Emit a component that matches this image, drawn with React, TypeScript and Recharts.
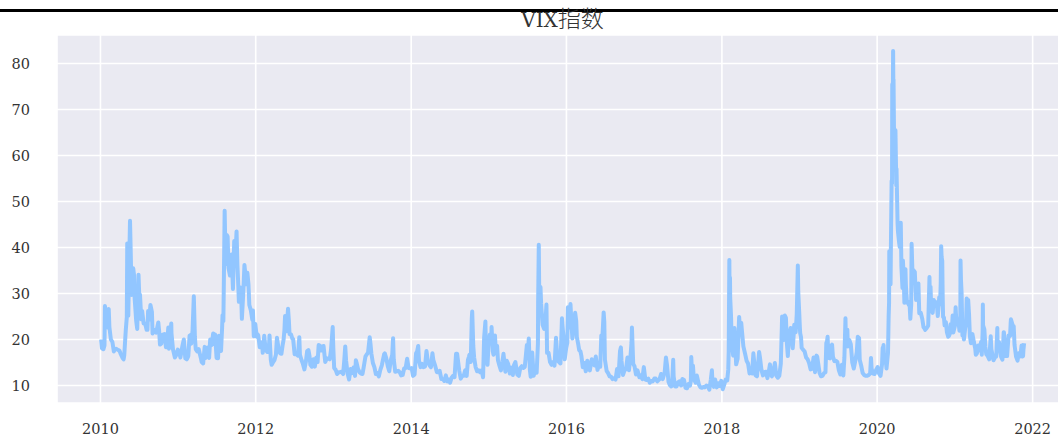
import React from "react";
import { CartesianGrid, Line, LineChart, XAxis, YAxis } from "recharts";

// VIX daily close, sampled (month-day, value) per year; rows are sorted by date below
const y2010: [string, number][] = [
  ["01-04", 20.0], ["01-08", 18.1], ["01-15", 17.9], ["01-22", 27.3], ["01-29", 24.6],
  ["02-05", 26.1], ["02-12", 22.7], ["02-19", 20.0], ["02-26", 19.5], ["03-05", 17.4],
  ["03-15", 18.0], ["03-26", 17.7], ["04-05", 17.0], ["04-15", 16.0], ["04-23", 16.6],
  ["04-30", 22.0], ["05-07", 40.9], ["05-14", 31.2], ["05-20", 45.8], ["05-27", 29.7],
  ["06-04", 35.5], ["06-11", 28.8], ["06-18", 24.1], ["06-29", 34.1], ["07-06", 29.7],
  ["07-16", 26.2], ["07-23", 23.5], ["07-30", 23.5], ["08-06", 22.1], ["08-13", 26.2],
  ["08-24", 27.5], ["08-31", 26.0], ["09-10", 21.9], ["09-20", 21.5], ["09-30", 23.7],
  ["10-08", 18.9], ["10-19", 21.0], ["10-29", 21.2], ["11-05", 18.3], ["11-16", 22.6],
  ["11-30", 23.5], ["12-08", 17.9], ["12-17", 16.1], ["12-31", 17.8],
  ["01-20", 18.7], ["02-03", 22.6], ["02-09", 26.6], ["03-10", 17.9], ["03-31", 17.6],
  ["04-20", 15.7], ["05-05", 24.9], ["05-12", 25.2], ["05-24", 37.6], ["06-08", 34.0],
  ["06-23", 22.3], ["07-02", 30.1], ["07-12", 24.4], ["08-10", 22.1], ["08-18", 24.3],
  ["09-03", 21.3], ["09-15", 22.1], ["10-04", 21.8], ["10-14", 19.1], ["11-10", 18.9],
  ["11-19", 18.0], ["12-01", 21.4], ["12-22", 16.5],
];
const y2011: [string, number][] = [
  ["01-07", 17.1], ["01-21", 18.5], ["01-28", 20.0], ["02-04", 15.9], ["02-18", 16.4],
  ["02-24", 20.8], ["03-04", 19.1], ["03-10", 21.9], ["03-16", 29.4], ["03-25", 17.9],
  ["04-08", 17.9], ["04-18", 16.0], ["04-29", 14.8], ["05-06", 18.4], ["05-16", 18.2],
  ["05-27", 16.0], ["06-08", 18.8], ["06-15", 21.3], ["06-24", 21.1], ["07-01", 16.0],
  ["07-08", 15.95], ["07-15", 19.5], ["07-22", 17.5], ["07-29", 25.3], ["08-04", 31.7],
  ["08-08", 48.0], ["08-10", 43.0], ["08-12", 36.4], ["08-18", 42.7], ["08-26", 35.6],
  ["09-02", 33.9], ["09-09", 38.5], ["09-16", 31.0], ["09-22", 41.4], ["09-30", 40.5],
  ["10-03", 43.5], ["10-07", 36.2], ["10-14", 28.2], ["10-21", 31.3], ["10-28", 24.5],
  ["11-04", 30.5], ["11-16", 32.9], ["11-23", 34.5], ["12-02", 27.5], ["12-09", 26.4],
  ["12-16", 24.3], ["12-30", 23.4],
  ["01-12", 16.1], ["02-11", 15.7], ["03-01", 21.0], ["03-21", 20.6], ["04-01", 17.4],
  ["04-22", 15.1], ["05-10", 16.0], ["05-23", 18.3], ["06-01", 20.0], ["06-20", 19.0],
  ["07-12", 20.8], ["07-27", 22.5], ["08-02", 24.0], ["08-22", 42.4], ["09-06", 37.0],
  ["09-13", 34.6], ["09-27", 37.7], ["10-10", 33.0], ["10-25", 29.3], ["11-09", 36.2],
  ["11-18", 32.0], ["11-28", 32.0], ["12-19", 26.3], ["12-23", 20.7],
];
const y2012: [string, number][] = [
  ["01-06", 20.6], ["01-13", 20.9], ["01-20", 18.3], ["01-31", 19.4], ["02-10", 20.8],
  ["02-17", 17.8], ["03-02", 17.3], ["03-06", 20.9], ["03-16", 14.5], ["03-23", 15.1],
  ["04-05", 16.7], ["04-10", 20.4], ["04-20", 17.4], ["05-01", 16.9], ["05-11", 19.9],
  ["05-18", 25.1], ["05-25", 21.8], ["06-01", 26.7], ["06-08", 21.2], ["06-15", 21.1],
  ["06-22", 20.1], ["07-06", 17.1], ["07-13", 16.7], ["07-24", 20.5], ["08-03", 15.6],
  ["08-17", 13.5], ["08-24", 15.2], ["09-05", 17.7], ["09-14", 14.5], ["09-28", 15.7],
  ["10-12", 16.1], ["10-23", 18.8], ["11-02", 17.6], ["11-15", 18.6], ["11-23", 15.1],
  ["12-07", 15.9], ["12-20", 17.7], ["12-28", 22.7],
  ["01-10", 21.1], ["01-26", 18.6], ["02-03", 17.1], ["02-24", 17.3], ["03-12", 15.6],
  ["03-29", 15.5], ["04-16", 18.5], ["04-25", 17.0], ["05-07", 18.9], ["05-15", 22.0],
  ["06-05", 24.1], ["06-25", 20.1], ["07-02", 16.8], ["07-18", 16.5], ["07-27", 16.7],
  ["08-10", 14.7], ["08-30", 17.5], ["09-10", 16.4], ["09-21", 14.1], ["10-05", 14.1],
  ["10-18", 15.1], ["10-31", 18.6], ["11-08", 17.6], ["11-30", 15.9], ["12-14", 15.7],
  ["12-31", 18.0],
];
const y2013: [string, number][] = [
  ["01-04", 13.8], ["01-18", 12.5], ["02-01", 12.9], ["02-15", 12.5], ["02-25", 18.5],
  ["03-08", 12.6], ["03-22", 13.6], ["04-05", 13.9], ["04-16", 15.5], ["04-26", 13.6],
  ["05-10", 12.6], ["05-22", 13.8], ["06-05", 16.7], ["06-20", 20.5], ["06-28", 16.9],
  ["07-12", 14.0], ["07-26", 12.7], ["08-09", 13.4], ["08-27", 16.8], ["09-06", 15.9],
  ["09-20", 13.1], ["10-08", 20.3], ["10-18", 13.0], ["11-01", 13.2], ["11-15", 12.2],
  ["11-29", 13.7], ["12-13", 15.8], ["12-31", 13.7],
  ["01-11", 13.4], ["01-25", 12.9], ["02-08", 13.0], ["02-20", 15.2], ["03-01", 15.4],
  ["03-15", 11.3], ["03-28", 12.7], ["04-12", 12.1], ["04-19", 15.0], ["05-03", 12.9],
  ["05-17", 12.5], ["05-31", 16.3], ["06-12", 17.1], ["06-24", 18.9], ["07-05", 14.9],
  ["07-19", 12.5], ["08-02", 12.0], ["08-16", 14.4], ["08-30", 17.0], ["09-13", 14.2],
  ["09-27", 15.5], ["10-04", 16.7], ["10-11", 15.7], ["10-25", 13.1], ["11-08", 12.9],
  ["11-22", 12.3], ["12-06", 13.8], ["12-20", 13.8],
];
const y2014: [string, number][] = [
  ["01-10", 12.1], ["01-24", 17.0], ["02-03", 18.6], ["02-14", 14.0], ["02-28", 14.0],
  ["03-14", 17.5], ["03-28", 14.4], ["04-11", 17.0], ["04-25", 14.1], ["05-09", 12.9],
  ["05-23", 11.4], ["06-06", 11.0], ["06-20", 10.9], ["07-03", 10.6], ["07-17", 12.1],
  ["07-31", 16.9], ["08-08", 15.8], ["08-22", 11.5], ["09-05", 12.1], ["09-19", 12.1],
  ["09-30", 16.3], ["10-08", 15.1], ["10-15", 26.1], ["10-24", 16.1], ["11-07", 13.1],
  ["11-21", 12.9], ["12-05", 11.8], ["12-16", 23.9], ["12-26", 14.5],
  ["01-03", 13.8], ["01-17", 12.4], ["01-29", 17.4], ["02-07", 15.3], ["02-21", 14.7],
  ["03-07", 14.1], ["03-20", 15.4], ["04-04", 14.0], ["04-15", 15.6], ["05-02", 12.9],
  ["05-15", 13.2], ["05-30", 11.4], ["06-13", 12.2], ["06-27", 11.3], ["07-10", 11.7],
  ["07-24", 11.8], ["08-05", 16.9], ["08-15", 13.2], ["08-29", 12.1], ["09-12", 13.3],
  ["09-25", 15.6], ["10-02", 16.7], ["10-13", 24.6], ["10-20", 18.6], ["10-31", 14.0],
  ["11-14", 13.3], ["11-28", 13.3], ["12-10", 20.4], ["12-19", 16.5], ["12-31", 19.2],
];
const y2015: [string, number][] = [
  ["01-06", 21.1], ["01-14", 22.7], ["01-23", 16.7], ["01-30", 20.9], ["02-09", 18.6],
  ["02-20", 14.3], ["03-06", 15.2], ["03-11", 16.9], ["03-20", 13.0], ["04-02", 14.7],
  ["04-17", 13.9], ["04-30", 14.5], ["05-15", 12.4], ["05-29", 13.8], ["06-12", 13.8],
  ["06-29", 18.8], ["07-08", 20.2], ["07-17", 11.9], ["07-31", 12.1], ["08-14", 12.8],
  ["08-21", 28.0], ["08-24", 40.6], ["08-28", 26.1], ["09-04", 27.8], ["09-18", 22.3],
  ["09-29", 27.6], ["10-09", 17.1], ["10-23", 14.5], ["11-06", 14.3], ["11-13", 20.4],
  ["11-25", 15.2], ["12-11", 24.6], ["12-18", 20.7], ["12-31", 18.2],
  ["01-13", 20.6], ["01-20", 17.4], ["01-27", 17.2], ["02-03", 17.3], ["02-13", 15.5],
  ["02-27", 13.3], ["03-13", 16.0], ["03-26", 15.4], ["04-10", 12.6], ["04-24", 12.3],
  ["05-06", 15.1], ["05-22", 12.1], ["06-05", 14.2], ["06-19", 14.0], ["07-02", 16.1],
  ["07-13", 13.4], ["07-24", 17.2], ["08-07", 13.4], ["08-20", 19.1], ["08-26", 30.3],
  ["09-01", 31.4], ["09-11", 23.2], ["09-24", 23.5], ["10-02", 17.1], ["10-16", 15.1],
  ["10-30", 15.1], ["11-20", 15.5], ["12-04", 14.8], ["12-14", 22.7], ["12-24", 15.7],
];
const y2016: [string, number][] = [
  ["01-05", 19.3], ["01-12", 22.5], ["01-20", 27.7], ["01-29", 20.2], ["02-05", 23.4],
  ["02-11", 25.8], ["02-19", 20.5], ["03-01", 17.7], ["03-11", 16.5], ["03-24", 14.9],
  ["04-08", 15.4], ["04-20", 13.3], ["05-06", 14.7], ["05-18", 16.3], ["05-31", 14.2],
  ["06-13", 20.9], ["06-24", 25.9], ["06-30", 15.6], ["07-15", 12.7], ["07-29", 11.9],
  ["08-12", 11.6], ["08-26", 13.6], ["09-09", 17.5], ["09-13", 18.3], ["09-23", 12.3],
  ["10-07", 13.5], ["10-21", 13.3], ["11-04", 22.6], ["11-10", 14.7], ["11-23", 12.4],
  ["12-09", 11.8], ["12-23", 11.4],
  ["01-08", 27.0], ["01-15", 24.4], ["01-26", 22.5], ["02-02", 22.0], ["02-16", 24.1],
  ["02-25", 19.1], ["03-07", 17.4], ["03-18", 14.0], ["04-01", 13.1], ["04-14", 13.7],
  ["04-29", 15.7], ["05-12", 14.4], ["05-26", 13.4], ["06-08", 14.1], ["06-17", 19.4],
  ["06-27", 23.9], ["07-08", 13.2], ["07-22", 12.0], ["08-05", 11.4], ["08-19", 11.3],
  ["09-02", 12.0], ["09-16", 15.4], ["09-30", 13.3], ["10-14", 16.1], ["10-28", 16.2],
  ["11-02", 19.3], ["11-16", 14.2], ["11-30", 13.3], ["12-16", 12.2], ["12-30", 14.0],
];
const y2017: [string, number][] = [
  ["01-06", 11.3], ["01-20", 11.5], ["02-03", 11.0], ["02-17", 11.5], ["03-03", 10.9],
  ["03-21", 12.5], ["04-07", 12.9], ["04-13", 16.1], ["04-25", 10.8], ["05-08", 9.8],
  ["05-17", 15.6], ["05-26", 9.8], ["06-09", 10.7], ["06-23", 10.0], ["07-07", 11.2],
  ["07-21", 9.4], ["08-04", 10.0], ["08-10", 16.2], ["08-18", 14.3], ["08-31", 10.6],
  ["09-15", 10.2], ["09-29", 9.5], ["10-13", 9.6], ["10-27", 9.8], ["11-10", 11.3],
  ["11-15", 13.3], ["11-24", 9.7], ["12-08", 9.6], ["12-22", 9.9],
  ["01-13", 11.2], ["01-27", 10.6], ["02-10", 10.9], ["02-24", 11.5], ["03-14", 11.4],
  ["03-29", 11.4], ["04-11", 15.1], ["04-18", 14.4], ["05-01", 10.1], ["05-12", 10.4],
  ["05-19", 12.0], ["06-02", 9.8], ["06-15", 10.9], ["06-29", 11.4], ["07-14", 9.5],
  ["07-28", 10.3], ["08-08", 11.0], ["08-14", 12.3], ["08-22", 11.4], ["09-05", 12.2],
  ["09-22", 9.6], ["10-06", 9.7], ["10-20", 10.0], ["11-03", 9.1], ["11-17", 11.4],
  ["11-30", 11.3], ["12-15", 10.5], ["12-29", 11.0],
];
const y2018: [string, number][] = [
  ["01-05", 9.2], ["01-19", 11.3], ["01-31", 13.5], ["02-05", 37.3], ["02-09", 29.1],
  ["02-16", 19.5], ["03-01", 22.5], ["03-09", 14.6], ["03-23", 24.9], ["04-06", 21.5],
  ["04-20", 16.9], ["05-04", 14.8], ["05-18", 13.4], ["05-29", 17.0], ["06-15", 12.0],
  ["06-29", 16.1], ["07-13", 12.2], ["07-27", 13.0], ["08-10", 13.2], ["08-15", 14.6],
  ["08-24", 12.0], ["09-07", 14.9], ["09-21", 11.7], ["10-05", 14.8], ["10-11", 25.0],
  ["10-19", 19.9], ["10-24", 25.2], ["11-02", 19.5], ["11-12", 20.5], ["11-20", 22.5],
  ["11-30", 18.1], ["12-07", 23.2], ["12-14", 21.6], ["12-24", 36.1], ["12-31", 25.4],
  ["01-12", 10.2], ["01-26", 11.1], ["02-02", 17.3], ["02-06", 30.0], ["02-08", 33.5],
  ["02-13", 25.0], ["02-23", 16.5], ["03-05", 18.7], ["03-16", 15.8], ["03-27", 22.5],
  ["04-02", 23.6], ["04-12", 18.5], ["04-27", 15.4], ["05-11", 12.6], ["05-23", 12.6],
  ["06-08", 12.2], ["06-25", 17.3], ["07-06", 13.4], ["07-20", 12.9], ["08-03", 11.6],
  ["08-20", 12.5], ["08-31", 12.9], ["09-14", 12.1], ["09-28", 12.1], ["10-10", 23.0],
  ["10-15", 21.3], ["10-29", 24.7], ["11-07", 16.4], ["11-23", 21.5], ["12-04", 20.7],
  ["12-10", 22.6], ["12-19", 25.6], ["12-26", 30.4],
];
const y2019: [string, number][] = [
  ["01-04", 21.4], ["01-11", 18.2], ["01-25", 17.4], ["02-08", 15.7], ["02-22", 13.5],
  ["03-08", 16.1], ["03-22", 16.5], ["04-05", 12.8], ["04-19", 12.1], ["05-03", 12.9],
  ["05-13", 20.6], ["05-24", 15.9], ["05-31", 18.7], ["06-14", 15.3], ["06-28", 15.1],
  ["07-12", 12.4], ["07-26", 12.2], ["08-05", 24.6], ["08-14", 22.1], ["08-23", 19.9],
  ["09-06", 15.0], ["09-20", 15.3], ["10-02", 20.6], ["10-11", 15.6], ["10-25", 12.7],
  ["11-08", 12.1], ["11-22", 12.3], ["12-03", 16.0], ["12-13", 12.6], ["12-27", 13.4],
  ["01-02", 23.2], ["01-08", 20.5], ["01-18", 17.8], ["02-01", 16.1], ["02-15", 14.9],
  ["03-01", 13.6], ["03-15", 12.9], ["03-25", 16.3], ["04-12", 12.0], ["04-26", 12.7],
  ["05-07", 19.3], ["05-09", 19.1], ["05-17", 16.0], ["06-03", 18.9], ["06-07", 16.3],
  ["06-21", 15.4], ["07-05", 13.3], ["07-19", 14.5], ["07-31", 16.1], ["08-07", 19.5],
  ["08-12", 21.1], ["08-16", 18.5], ["08-30", 19.0], ["09-13", 13.7], ["09-27", 17.2],
  ["10-08", 20.3], ["10-18", 14.3], ["11-01", 12.3], ["11-15", 12.1], ["11-29", 12.6],
  ["12-06", 13.6], ["12-20", 12.5],
];
const y2020: [string, number][] = [
  ["01-03", 14.0], ["01-17", 12.1], ["01-27", 18.2], ["01-31", 18.8], ["02-07", 15.5],
  ["02-14", 13.7], ["02-21", 17.1], ["02-24", 25.0], ["02-27", 39.2], ["03-06", 41.9],
  ["03-09", 54.5], ["03-12", 75.5], ["03-16", 82.7], ["03-20", 66.0], ["03-25", 63.9],
  ["03-27", 65.5], ["04-01", 57.1], ["04-06", 45.2], ["04-13", 41.2], ["04-21", 45.4],
  ["04-29", 31.2], ["05-05", 33.6], ["05-13", 35.3], ["05-20", 28.0], ["05-29", 27.5],
  ["06-05", 24.5], ["06-11", 40.8], ["06-15", 34.4], ["06-26", 34.7], ["07-02", 28.6],
  ["07-13", 32.2], ["07-24", 25.8], ["08-06", 22.7], ["08-14", 22.1], ["08-21", 22.5],
  ["09-03", 33.6], ["09-08", 31.5], ["09-18", 25.8], ["09-23", 28.6], ["10-02", 27.6],
  ["10-12", 25.1], ["10-19", 29.2], ["10-28", 40.3], ["10-30", 38.0], ["11-06", 24.9],
  ["11-13", 23.1], ["11-24", 21.6], ["12-04", 20.8], ["12-11", 23.3], ["12-21", 25.2],
  ["12-31", 22.8],
  ["01-10", 12.6], ["01-24", 14.6], ["01-29", 16.4], ["02-04", 15.0], ["02-11", 15.2],
  ["02-26", 27.9], ["03-02", 33.4], ["03-04", 32.0], ["03-11", 53.9], ["03-13", 57.8],
  ["03-17", 75.9], ["03-18", 76.5], ["03-23", 61.6], ["03-31", 53.5], ["04-08", 43.4],
  ["04-16", 40.1], ["04-24", 35.9], ["05-01", 37.2], ["05-08", 28.0], ["05-15", 31.9],
  ["05-26", 28.0], ["06-01", 28.2], ["06-09", 27.6], ["06-19", 35.1], ["06-30", 30.4],
  ["07-09", 29.3], ["07-17", 25.7], ["07-31", 24.5], ["08-12", 22.3], ["08-28", 23.0],
  ["09-04", 30.8], ["09-11", 26.9], ["09-24", 28.5], ["10-07", 28.1], ["10-16", 27.4],
  ["10-23", 27.6], ["10-26", 32.5], ["11-02", 37.1], ["11-04", 29.6], ["11-10", 24.8],
  ["11-19", 23.8], ["11-30", 20.6], ["12-08", 21.3], ["12-17", 21.9], ["12-24", 21.5],
];
const y2021: [string, number][] = [
  ["01-06", 25.1], ["01-15", 24.3], ["01-22", 21.9], ["01-27", 37.2], ["01-29", 33.1],
  ["02-05", 20.9], ["02-12", 20.0], ["02-25", 28.9], ["03-04", 28.6], ["03-12", 20.7],
  ["03-19", 20.9], ["03-31", 19.4], ["04-09", 16.7], ["04-20", 18.7], ["04-30", 18.6],
  ["05-07", 16.7], ["05-12", 27.6], ["05-19", 22.2], ["05-28", 16.8], ["06-11", 15.7],
  ["06-18", 20.7], ["06-30", 15.8], ["07-09", 16.2], ["07-19", 22.5], ["07-30", 18.2],
  ["08-06", 16.2], ["08-19", 21.6], ["08-27", 16.4], ["09-10", 20.9], ["09-20", 23.8],
  ["09-29", 23.0], ["10-04", 22.9], ["10-15", 16.3], ["10-27", 17.0], ["11-05", 16.5],
  ["11-12", 16.3], ["11-19", 17.9], ["11-22", 19.2],
  ["01-04", 27.0], ["01-12", 23.3], ["01-19", 23.2], ["01-26", 23.0], ["02-01", 30.2],
  ["02-09", 21.6], ["02-18", 22.5], ["02-22", 23.4], ["03-01", 23.4], ["03-08", 25.5],
  ["03-17", 19.2], ["03-24", 21.2], ["04-06", 18.1], ["04-14", 17.0], ["04-27", 17.6],
  ["05-04", 19.5], ["05-11", 21.8], ["05-13", 23.1], ["05-24", 18.4], ["06-04", 16.4],
  ["06-21", 17.9], ["07-01", 15.5], ["07-14", 16.3], ["07-20", 19.7], ["07-27", 19.4],
  ["08-12", 15.6], ["08-18", 21.6], ["09-03", 16.4], ["09-17", 20.8], ["09-21", 24.4],
  ["09-28", 23.3], ["10-01", 21.2], ["10-08", 18.8], ["10-22", 15.4], ["11-01", 16.3],
  ["11-10", 18.7], ["11-17", 16.4],
];

const seriesByYear: [number, [string, number][]][] = [
  [2010, y2010], [2011, y2011], [2012, y2012], [2013, y2013], [2014, y2014], [2015, y2015],
  [2016, y2016], [2017, y2017], [2018, y2018], [2019, y2019], [2020, y2020], [2021, y2021],
];
const yearTicks = [2010, 2012, 2014, 2016, 2018, 2020, 2022];
const valueTicks = [10, 20, 30, 40, 50, 60, 70, 80];

const toMs = (s: string) => Date.parse(s + "T00:00:00Z");
const yearToMs = (y: number) =>
  Date.UTC(Math.floor(y), 0, 1) + (y - Math.floor(y)) * 365.25 * 86400000;

const data = seriesByYear
  .flatMap(([yr, rows]) => rows.map(([md, v]) => ({ t: toMs(`${yr}-${md}`), vix: v })))
  .sort((a, b) => a.t - b.t);

const tickStyle = { fill: "#333", fontSize: 14.5, fontFamily: "DejaVu Serif" };

export default function App() {
  return (
    <div
      style={{
        position: "fixed",
        left: 0,
        top: 0,
        width: 1058,
        height: 437,
        overflow: "hidden",
        background: "#fff",
      }}
    >
      <LineChart
        width={1100}
        height={437}
        data={data}
        margin={{ top: 35, right: 29, bottom: 0, left: 12 }}
      >
        <CartesianGrid fill="#EAEAF2" stroke="#fff" strokeWidth={1.6} />
        <XAxis
          dataKey="t"
          type="number"
          domain={[yearToMs(2009.44), yearToMs(2022.494)]}
          ticks={yearTicks.map((y) => Date.UTC(y, 0, 1))}
          tickFormatter={(v: number) => String(new Date(v).getUTCFullYear())}
          allowDataOverflow
          axisLine={false}
          tickLine={false}
          tickSize={0}
          tickMargin={21}
          height={34}
          tick={tickStyle}
        />
        <YAxis
          type="number"
          domain={[6.2, 86.2]}
          ticks={valueTicks}
          allowDataOverflow
          axisLine={false}
          tickLine={false}
          tickSize={0}
          tickMargin={27}
          width={45}
          tick={tickStyle}
        />
        <Line
          type="linear"
          dataKey="vix"
          stroke="#92C6FF"
          strokeWidth={4}
          strokeLinejoin="round"
          dot={false}
          isAnimationActive={false}
        />
      </LineChart>
      <svg
        width={1058}
        height={34}
        style={{ position: "absolute", left: 0, top: 0 }}
      >
        <line x1={0} x2={1058} y1={10.5} y2={10.5} stroke="#000" strokeWidth={3} />
        <text
          x={562.5}
          y={27}
          textAnchor="middle"
          fill="#333"
          fontSize={20}
          fontFamily="DejaVu Serif"
        >
          VIX
          <tspan fontFamily="Noto Sans CJK SC" fontSize={23} fontWeight={300}>
            指数
          </tspan>
        </text>
      </svg>
    </div>
  );
}
